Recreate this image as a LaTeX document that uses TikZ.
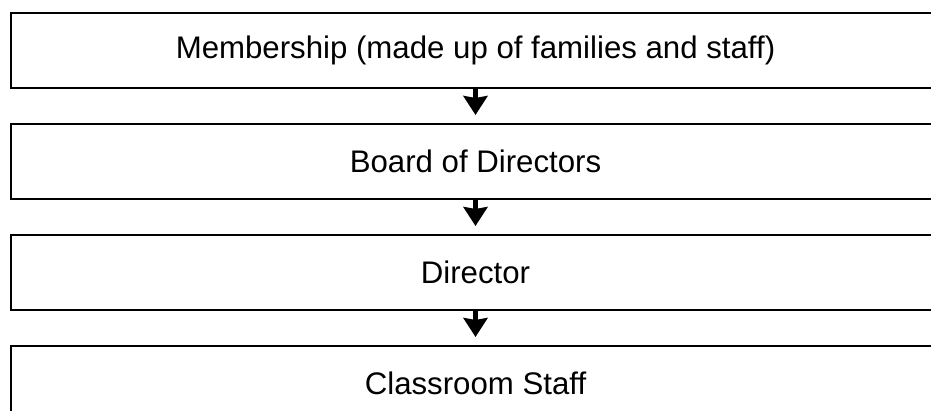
\documentclass[tikz,border=0pt]{standalone}
\usepackage{fontspec}
\setmainfont{Liberation Sans}
\usepackage{tikz}
\usetikzlibrary{arrows.meta}

\begin{document}
\begin{tikzpicture}[x=1pt, y=1pt, node distance=111pt,
                    box node/.style={rectangle,draw,line width=2pt,inner sep=0pt,minimum width=929pt,minimum height=75pt,font=\fontsize{31.2pt}{37pt}\selectfont},
                    flow/.style={line width=5.5pt,-{Stealth[width=24pt,length=19pt,inset=2pt]},shorten >=8pt}]

  \useasboundingbox (0,0) rectangle (931,411);
  \clip (0,0) rectangle (931,411);

  \node[box node] (1) at (475.5,360.5) {Membership (made up of families and staff)};
  \node[box node] (2) [below of=1] {Board of Directors};
  \node[box node] (3) [below of=2] {Director};
  \node[box node] (4) [below of=3] {Classroom Staff};

  \path[flow]
    (1.south) edge (2.north)
    (2.south) edge (3.north)
    (3.south) edge (4.north);

\end{tikzpicture}
\end{document}
